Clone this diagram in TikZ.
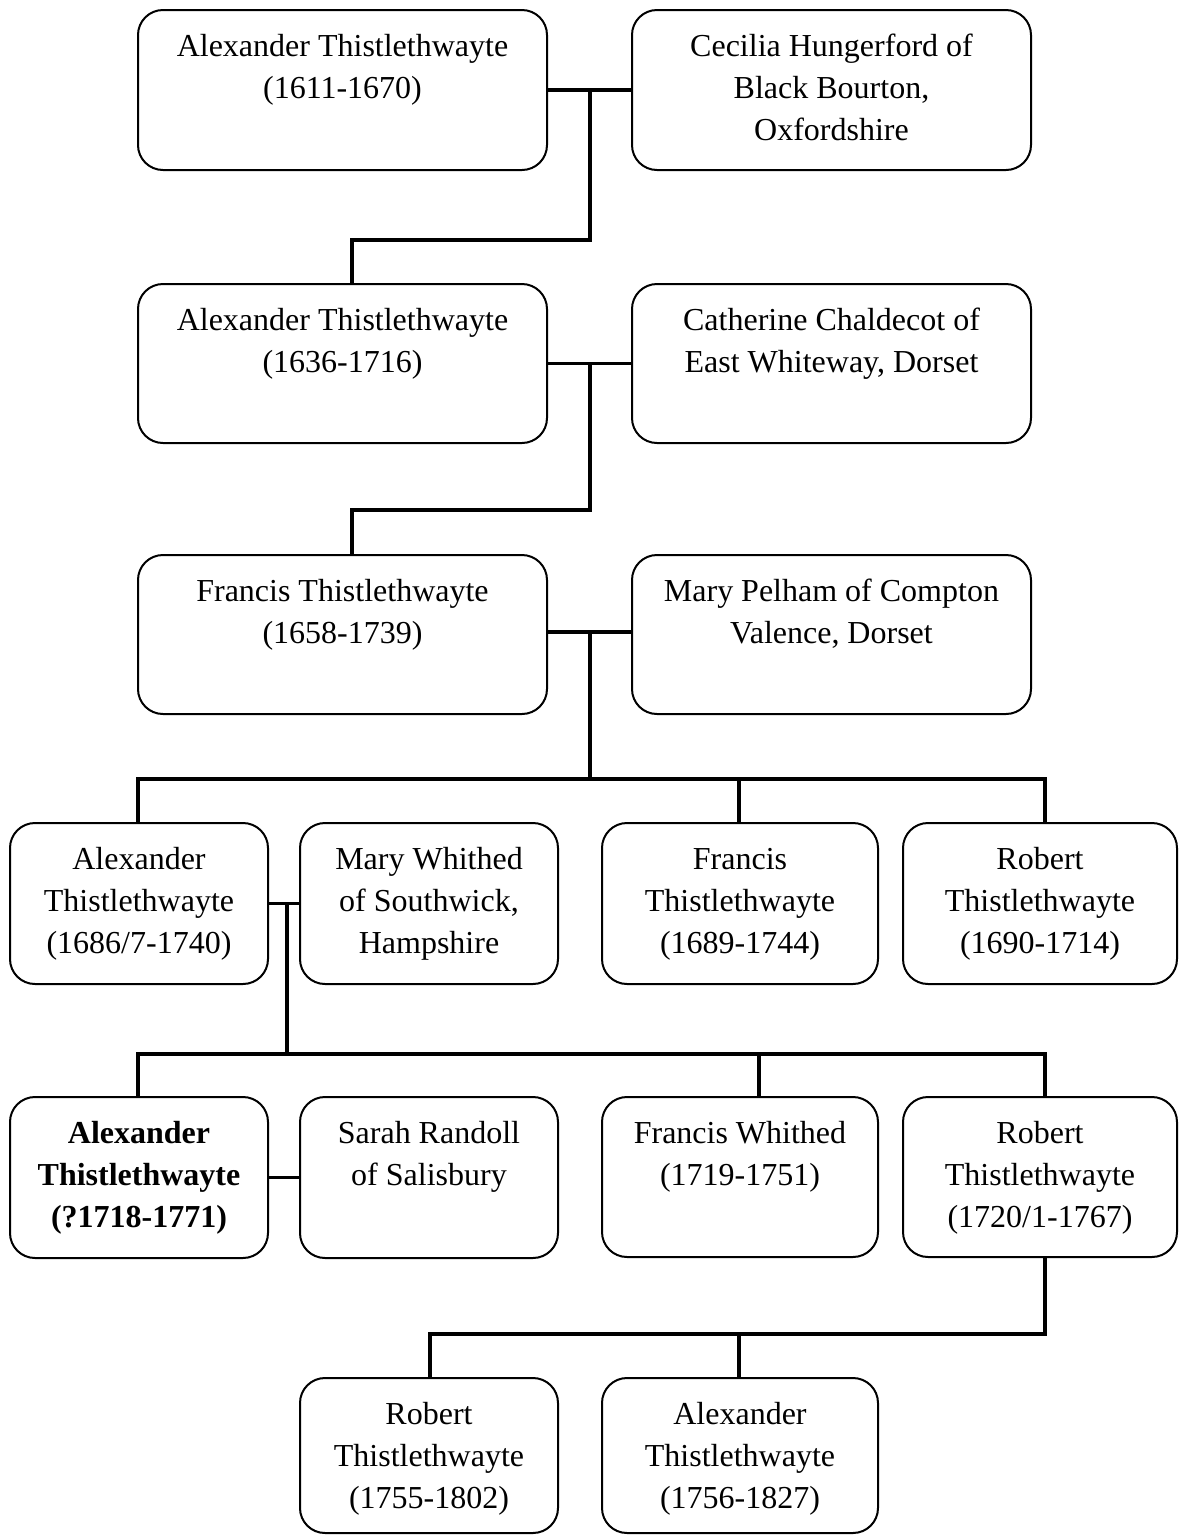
\documentclass[tikz,border=0pt]{standalone}
\usepackage{fontspec}
\setmainfont{Liberation Serif}
\usetikzlibrary{calc}
\newcommand\bxt[3]{\parbox[t][#2][t]{#1}{\centering\rule{0pt}{46pt}#3}}
\tikzset{
  person/.style={draw, line width=2pt, rounded corners=25pt, inner sep=0pt, outer sep=0pt,
                 font=\fontsize{32}{42}\selectfont},
  link/.style={line width=3.5pt}
}
\begin{document}
\begin{tikzpicture}[x=1pt,y=-1pt]
\useasboundingbox (0,0) rectangle (1179,1535);
% row 1
\node[person] (A1) at (342.5,90) {\bxt{409pt}{160pt}{Alexander Thistlethwayte\\(1611-1670)}};
\node[person] (C1) at (831.5,90) {\bxt{399pt}{160pt}{Cecilia Hungerford of\\Black Bourton,\\Oxfordshire}};
% row 2
\node[person] (A2) at (342.5,363.5) {\bxt{409pt}{159pt}{Alexander Thistlethwayte\\(1636-1716)}};
\node[person] (C2) at (831.5,363.5) {\bxt{399pt}{159pt}{Catherine Chaldecot of\\East Whiteway, Dorset}};
% row 3
\node[person] (F3) at (342.5,634.5) {\bxt{409pt}{159pt}{Francis Thistlethwayte\\(1658-1739)}};
\node[person] (M3) at (831.5,634.5) {\bxt{399pt}{159pt}{Mary Pelham of Compton\\Valence, Dorset}};
% row 4
\node[person] (A4) at (139,903.5) {\bxt{258pt}{161pt}{Alexander\\Thistlethwayte\\(1686/7-1740)}};
\node[person] (W4) at (429,903.5) {\bxt{258pt}{161pt}{Mary Whithed\\of Southwick,\\Hampshire}};
\node[person] (F4) at (740,903.5) {\bxt{276pt}{161pt}{Francis\\Thistlethwayte\\(1689-1744)}};
\node[person] (R4) at (1040,903.5) {\bxt{274pt}{161pt}{Robert\\Thistlethwayte\\(1690-1714)}};
% row 5
\node[person] (A5) at (139,1177.5) {\bxt{258pt}{161pt}{\bfseries Alexander\\Thistlethwayte\\(?1718-1771)}};
\node[person] (S5) at (429,1177.5) {\bxt{258pt}{161pt}{Sarah Randoll\\of Salisbury}};
\node[person] (FW5) at (740,1177) {\bxt{276pt}{160pt}{Francis Whithed\\(1719-1751)}};
\node[person] (R5) at (1040,1177) {\bxt{274pt}{160pt}{Robert\\Thistlethwayte\\(1720/1-1767)}};
% row 6
\node[person] (R6) at (429,1455.5) {\bxt{258pt}{155pt}{Robert\\Thistlethwayte\\(1755-1802)}};
\node[person] (A6) at (740,1455.5) {\bxt{276pt}{155pt}{Alexander\\Thistlethwayte\\(1756-1827)}};
% connectors
\coordinate (j1) at (590,90);
\coordinate (k1) at (352,240);
\draw[link] (A1.east) -- (C1.west);
\draw[link] (j1) |- (k1) -- (k1 |- A2.north);
\coordinate (j2) at (590,363.5);
\coordinate (k2) at (352,510);
\draw[link] (A2.east) -- (C2.west);
\draw[link] (j2) |- (k2) -- (k2 |- F3.north);
\coordinate (j3) at (590,632);
\coordinate (b3L) at (138,779);
\coordinate (b3M) at (739,779);
\coordinate (b3R) at (1045,779);
\draw[link] ($(F3.east)+(0,-2.5)$) -- ($(M3.west)+(0,-2.5)$);
\draw[link] (j3) -- (j3 |- b3L);
\draw[link] (b3L |- A4.north) -- (b3L) -- (b3R) -- (b3R |- R4.north);
\draw[link] (b3M) -- (b3M |- F4.north);
\coordinate (j4) at (287,903.5);
\coordinate (b4L) at (138,1054);
\coordinate (b4M) at (759,1054);
\coordinate (b4R) at (1045,1054);
\draw[link] (A4.east) -- (W4.west);
\draw[link] (j4) -- (j4 |- b4L);
\draw[link] (b4L |- A5.north) -- (b4L) -- (b4R) -- (b4R |- R5.north);
\draw[link] (b4M) -- (b4M |- FW5.north);
\draw[link] (A5.east) -- (S5.west);
\coordinate (b5L) at (430,1334);
\coordinate (b5M) at (739,1334);
\coordinate (b5R) at (1045,1334);
\draw[link] (b5R |- R5.south) -- (b5R) -- (b5L) -- (b5L |- R6.north);
\draw[link] (b5M) -- (b5M |- A6.north);
\end{tikzpicture}
\end{document}
